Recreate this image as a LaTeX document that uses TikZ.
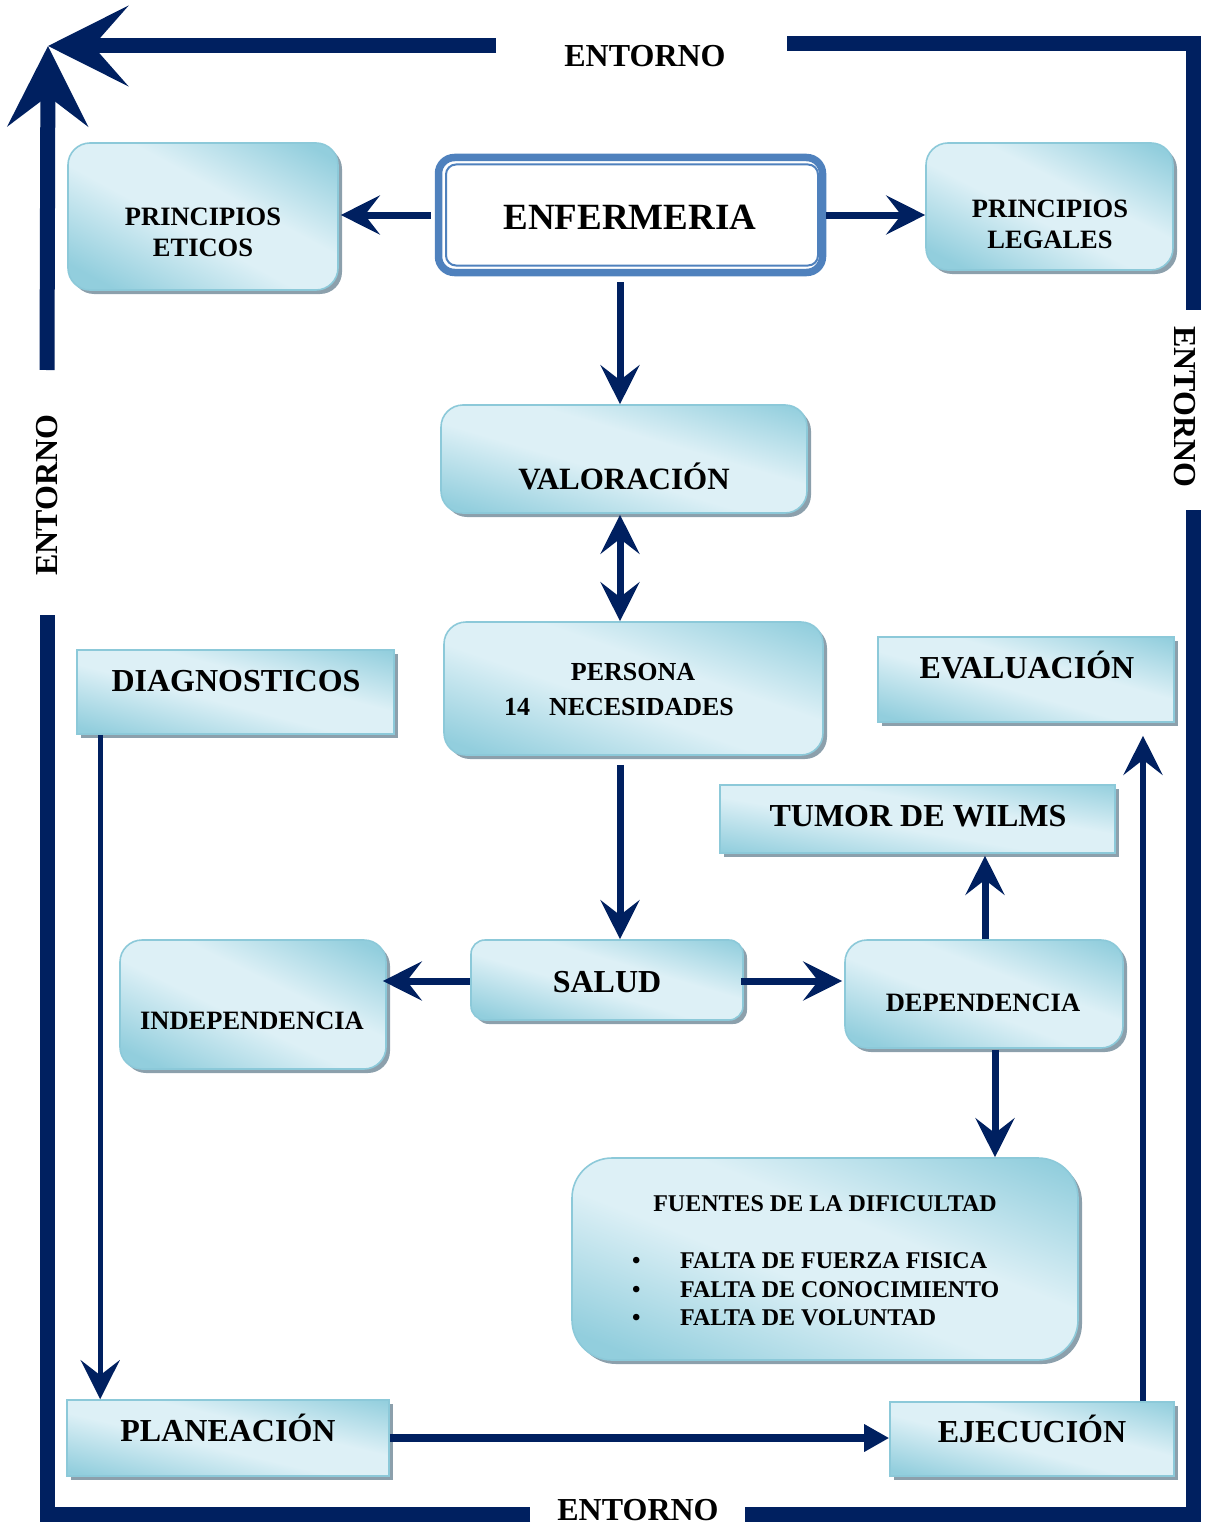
\documentclass[tikz,border=0pt]{standalone}
\usepackage{fontspec}
\setmainfont{Liberation Serif}
\usetikzlibrary{arrows.meta,shadows,calc}
\definecolor{navy}{RGB}{0,32,96}
\definecolor{bxlight}{RGB}{221,240,246}
\definecolor{bxdark}{RGB}{146,206,221}
\definecolor{bxline}{RGB}{140,201,217}
\definecolor{bxshadow}{RGB}{140,160,172}
\definecolor{enfblue}{RGB}{79,129,189}
\pgfdeclareverticalshading{boxsh}{100bp}{color(0bp)=(bxdark); color(22bp)=(bxdark); color(45bp)=(bxlight); color(58bp)=(bxlight); color(80bp)=(bxdark); color(100bp)=(bxdark)}
\newcommand\fsXL{\fontsize{37}{44}\selectfont\bfseries}
\newcommand\fsL{\fontsize{32}{38}\selectfont\bfseries}
\newcommand\fsV{\fontsize{31}{37}\selectfont\bfseries}
\newcommand\fsM{\fontsize{26.5}{31}\selectfont\bfseries}
\newcommand\fsP{\fontsize{26}{35}\selectfont\bfseries}
\newcommand\fsS{\fontsize{24}{28.5}\selectfont\bfseries}
\begin{document}
\begin{tikzpicture}[x=1pt,y=-1pt,
  bx/.style={draw=bxline, line width=1.6pt, shading=boxsh,
    drop shadow={shadow xshift=4pt, shadow yshift=-4pt, fill=bxshadow, opacity=1}, inner sep=0pt},
  rbx/.style={bx, rounded corners=#1}, rbx/.default=22pt,
  sbx/.style={bx},
  txt/.style={inner sep=0pt, text=black},
  tXL/.style={txt, font=\fsXL, text height=24.5pt, text depth=0pt},
  tL/.style={txt, font=\fsL, text height=21.2pt, text depth=0pt},
  tV/.style={txt, font=\fsV, text height=20.5pt, text depth=0pt},
  tM/.style={txt, font=\fsM, text height=17.5pt, text depth=0pt},
  tP/.style={txt, font=\fsP, text height=17.2pt, text depth=0pt},
  tS/.style={txt, font=\fsS, text height=15.9pt, text depth=0pt},
  con/.style={draw=navy, line width=7pt, -{Stealth[length=39pt,width=39pt,inset=15pt]}},
  frm/.style={draw=navy, line width=15pt, line cap=butt, line join=miter}]
\useasboundingbox (0,0) rectangle (1204,1525);

% ---------- frame ----------
\coordinate (ctl) at (48,46);
\coordinate (ctr) at (1193,44);
\coordinate (cbr) at (1193,1514);
\coordinate (cbl) at (47,1514);
\coordinate (g1) at (496,46);
\coordinate (g2) at (787,44);
\coordinate (g3) at (1193,310);
\coordinate (g4) at (1193,510);
\coordinate (g5) at (745,1514);
\coordinate (g6) at (530,1514);
\coordinate (g7) at (47,615);
\coordinate (g8) at (47,370);
\node[tL] (entT) at (645,56) {ENTORNO};
\node[tL, rotate=-90] (entR) at (1185,407) {ENTORNO};
\node[tL] (entB) at (638,1510) {ENTORNO};
\node[tL, rotate=90] (entL) at (47,495) {ENTORNO};
\draw[frm, -{Stealth[length=80pt,width=80pt,inset=35pt]}] (g1) -- (ctl);
\draw[frm] (g2) -- (ctr) -- (g3);
\draw[frm] (g4) -- (cbr) -- (g5);
\draw[frm] (g6) -- (cbl) -- (g7);
\draw[frm, -{Stealth[length=80pt,width=80pt,inset=30pt]}] (g8) -- (ctl);

% ---------- boxes ----------
\node[rbx, shading angle=-28.6, minimum width=270pt, minimum height=147pt] (etic) at (203,216.5) {};
\node[txt, font=\fsM, align=center] (eticT) at (203,232.5) {PRINCIPIOS\\ETICOS};

\node[draw=enfblue, line width=7.5pt, rounded corners=16pt, fill=white, minimum width=384pt, minimum height=115pt] (enf) at (630.5,215) {};
\node[draw=enfblue, line width=2pt, rounded corners=10pt, minimum width=372pt, minimum height=101pt] (enfin) at (632,215) {};
\node[tXL] (enfT) at (630,217) {ENFERMERIA};

\node[rbx, shading angle=-27.2, minimum width=247pt, minimum height=127pt] (leg) at (1049.5,206.5) {};
\node[txt, font=\fsM, align=center] (legT) at (1050,224.5) {PRINCIPIOS\\LEGALES};

\node[rbx, shading angle=-16.4, minimum width=366pt, minimum height=108pt] (valor) at (624,459) {};
\node[tV] (valorT) at (624,479) {VALORACIÓN};

\node[rbx, shading angle=-19.3, minimum width=379pt, minimum height=133pt] (pers) at (633.5,688.5) {};
\node[tP] (persT1) at (633,672) {PERSONA};
\node[tP] (persT2) at (619,707) {14\hspace{19pt}NECESIDADES};

\node[sbx, shading angle=-14.8, minimum width=317pt, minimum height=84pt] (diag) at (235.5,692) {};
\node[tL] (diagT) at (236,681) {DIAGNOSTICOS};

\node[sbx, shading angle=-16, minimum width=296pt, minimum height=85pt] (eval) at (1026,679.5) {};
\node[tL] (evalT) at (1027,668) {EVALUACIÓN};

\node[sbx, shading angle=-9.8, minimum width=395pt, minimum height=68pt] (tumor) at (917.5,819) {};
\node[tL] (tumorT) at (918,816) {TUMOR DE WILMS};

\node[rbx=14pt, shading angle=-16.4, minimum width=272pt, minimum height=80pt] (salud) at (607,980) {};
\node[tL] (saludT) at (607,982) {SALUD};

\node[rbx, shading angle=-25.9, minimum width=266pt, minimum height=129pt] (indep) at (253,1004.5) {};
\node[tM] (indepT) at (252,1021) {INDEPENDENCIA};

\node[rbx, shading angle=-21.2, minimum width=278pt, minimum height=108pt] (dep) at (984,994) {};
\node[tM] (depT) at (983,1003) {DEPENDENCIA};

\node[rbx=40pt, shading angle=-21.8, minimum width=506pt, minimum height=202pt] (fuen) at (825,1259) {};
\node[tS] (fuenT) at (825,1204) {FUENTES DE LA DIFICULTAD};
\node[txt, font=\fsS, align=left, anchor=west] (fuenL) at (632,1289.5)
  {\makebox[48pt][l]{\textbullet}FALTA DE FUERZA FISICA\\
   \makebox[48pt][l]{\textbullet}FALTA DE CONOCIMIENTO\\
   \makebox[48pt][l]{\textbullet}FALTA DE VOLUNTAD};

\node[sbx, shading angle=-13.3, minimum width=322pt, minimum height=76pt] (plan) at (228,1438) {};
\node[tL] (planT) at (228,1431) {PLANEACIÓN};

\node[sbx, shading angle=-14.6, minimum width=284pt, minimum height=74pt] (ejec) at (1032,1439) {};
\node[tL] (ejecT) at (1032,1432) {EJECUCIÓN};

% ---------- connectors ----------
\draw[con] ($(enf.west)+(-4,0)$) -- ($(etic.east |- enf.west)+(2,0)$);
\draw[con] ($(enf.east)+(0,0)$) -- (leg.west |- enf.east);
\draw[con] ($(enf.south)+(-10.5,6)$) -- ($(valor.north)+(-4,0)$);
\draw[con, {Stealth[length=39pt,width=39pt,inset=15pt]}-{Stealth[length=39pt,width=39pt,inset=15pt]}]
  ($(valor.south)+(-4,1)$) -- ($(pers.north)+(-13.5,0)$);
\draw[con] ($(pers.south)+(-13.5,9)$) -- ($(salud.north)+(13,0)$);
\draw[con] ($(salud.west)+(0,1)$) -- ($(indep.east |- salud.west)+(-4,1)$);
\draw[con] ($(salud.east)+(-3,1)$) -- ($(dep.west |- salud.east)+(-2,1)$);
\draw[con] ($(dep.north)+(1,0)$) -- ($(tumor.south)+(67.5,2)$);
\draw[con] ($(dep.south)+(11,1)$) -- ($(fuen.north)+(170,0)$);
\draw[con, line width=5pt] ($(diag.south west)+(24,0)$) -- ($(plan.north west)+(34,0)$);
\draw[draw=navy, line width=8pt, -{Triangle[length=25pt,width=26pt]}] (plan.east) -- (ejec.west |- plan.east);
\draw[con, line width=6.5pt] ($(ejec.north)+(111,0)$) -- ($(eval.south)+(117,13)$);
\end{tikzpicture}
\end{document}
